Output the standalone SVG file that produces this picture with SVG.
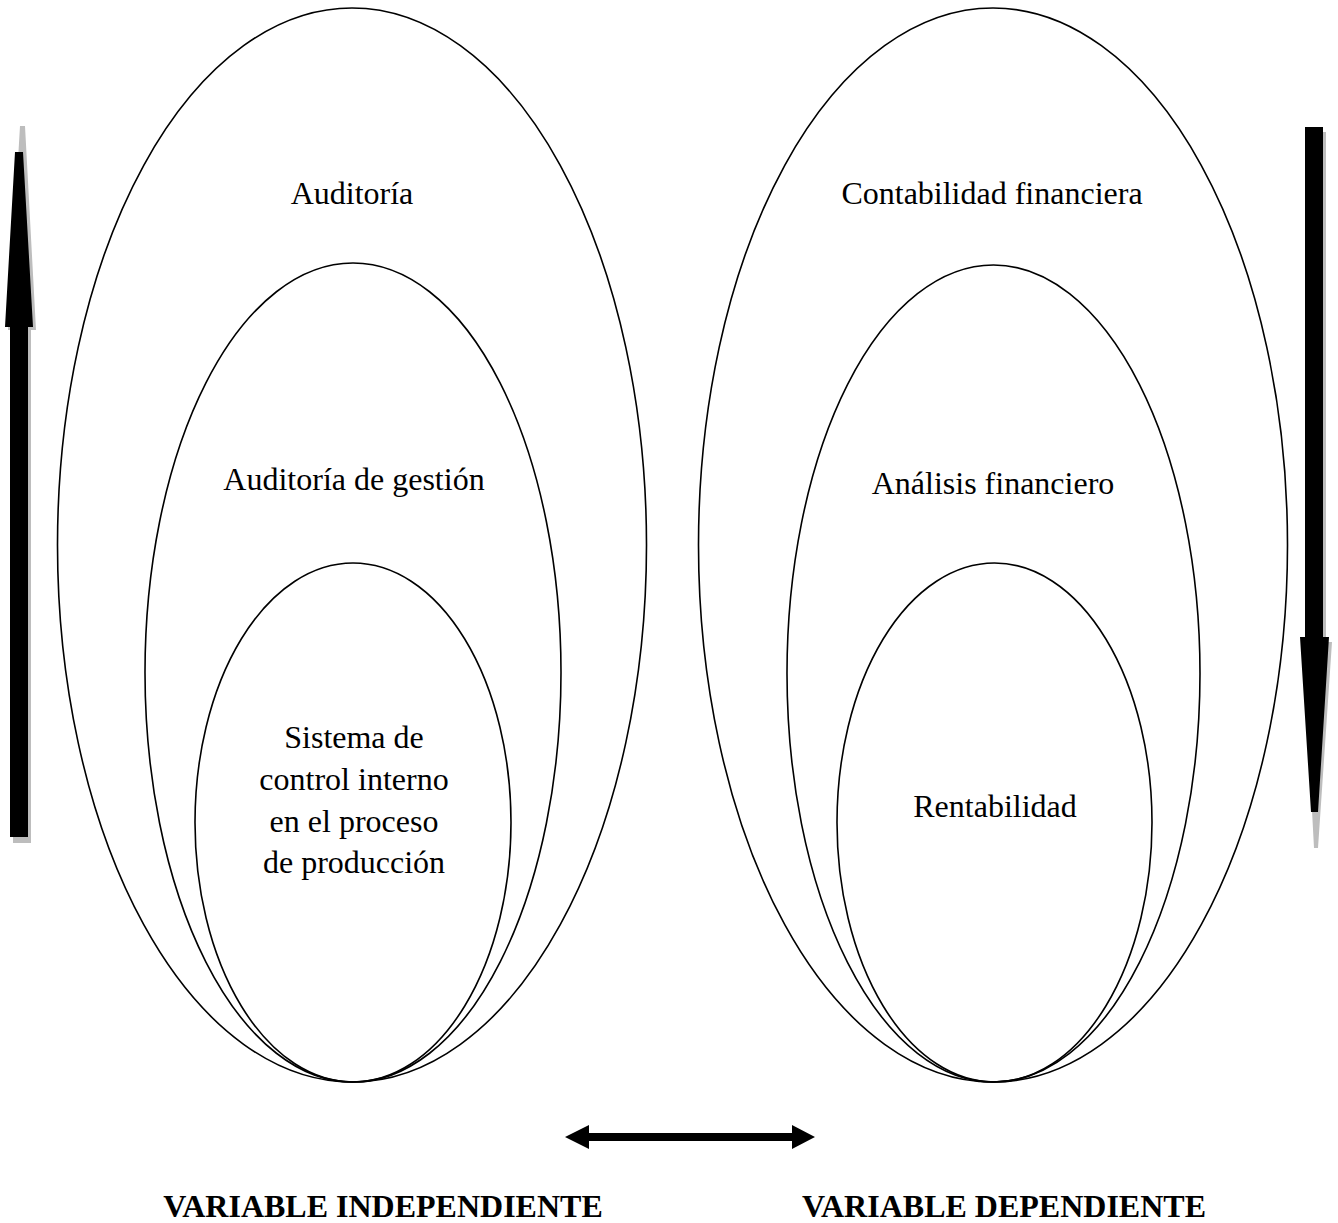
<svg xmlns="http://www.w3.org/2000/svg" width="1338" height="1223" viewBox="0 0 1338 1223">
<style>
.e{fill:none;stroke:#000;stroke-width:1.6}
.t{font-family:"Liberation Serif","Times New Roman",serif;font-size:32px;fill:#000;text-anchor:middle}
.b{font-weight:bold}
.sh{fill:#bdbdbd}
.ar{fill:#000}
</style>
<rect width="1338" height="1223" fill="#fff"/>
<g id="independiente">
<g id="n-auditoria"><ellipse class="e" cx="352" cy="545" rx="294.5" ry="537"/><text class="t" x="352" y="204">Auditoría</text></g>
<g id="n-auditoria-gestion"><ellipse class="e" cx="353" cy="672.5" rx="208" ry="409.5"/><text class="t" x="354" y="490">Auditoría de gestión</text></g>
<g id="n-sistema"><ellipse class="e" cx="353" cy="822.5" rx="158" ry="259.5"/><text class="t" x="354" y="748">Sistema de</text><text class="t" x="354" y="790">control interno</text><text class="t" x="354" y="832">en el proceso</text><text class="t" x="354" y="873">de producción</text></g>
</g>
<g id="dependiente">
<g id="n-contabilidad"><ellipse class="e" cx="993" cy="545" rx="294.5" ry="537"/><text class="t" x="992" y="204">Contabilidad financiera</text></g>
<g id="n-analisis"><ellipse class="e" cx="993.5" cy="673.5" rx="206.5" ry="408.5"/><text class="t" x="993" y="494">Análisis financiero</text></g>
<g id="n-rentabilidad"><ellipse class="e" cx="994.5" cy="822.5" rx="157.5" ry="259.5"/><text class="t" x="995" y="817">Rentabilidad</text></g>
</g>
<g id="connectors">
<g id="arrow-up">
<polygon class="sh" points="20,126 25,126 36,330 31,330 31,843 13,843 13,330 8,330"/>
<polygon class="ar" points="15,152 23,152 33,327 28,327 28,837 10,837 10,327 5,327"/>
</g>
<g id="arrow-down">
<polygon class="sh" points="1308,132 1326,132 1326,642 1332,642 1318,848 1314,848 1303,642 1308,642"/>
<polygon class="ar" points="1305,127 1323,127 1323,637 1329,637 1318,812 1311,812 1300,637 1305,637"/>
</g>
<g id="arrow-both">
<polygon class="ar" points="565,1137 589,1125 589,1133 792,1133 792,1125 815,1137 792,1149 792,1141 589,1141 589,1149"/>
</g>
</g>
<g id="labels">
<text class="t b" x="383" y="1217">VARIABLE INDEPENDIENTE</text>
<text class="t b" x="1004" y="1217">VARIABLE DEPENDIENTE</text>
</g>
</svg>
